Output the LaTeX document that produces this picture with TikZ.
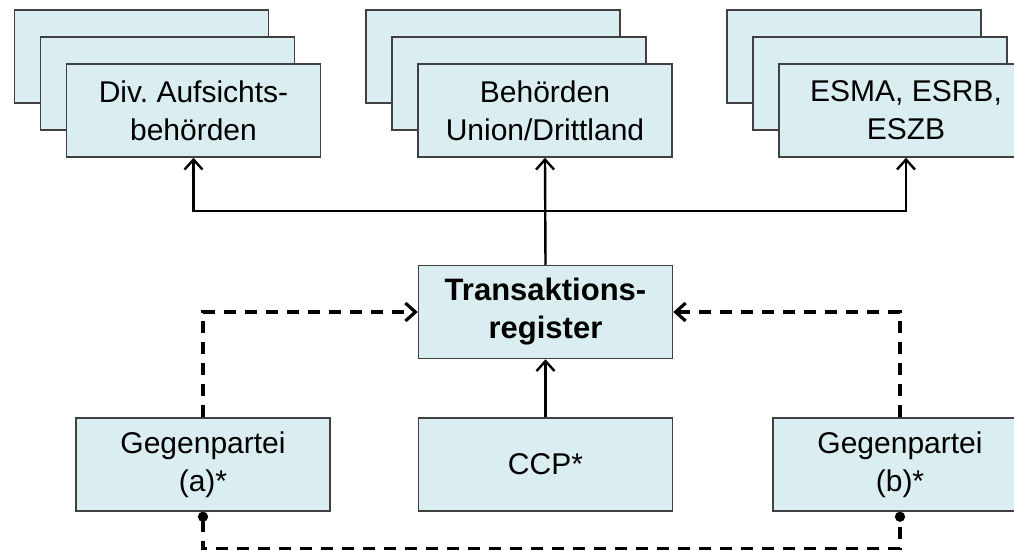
\documentclass[tikz,border=0pt]{standalone}
\usepackage{fontspec}
\setmainfont{Liberation Sans}
\usetikzlibrary{arrows.meta,shadows}
\definecolor{BoxBlue}{HTML}{DAEDF0}
\frenchspacing

\begin{document}
\begin{tikzpicture}[x=0.5pt, y=-0.5pt,
        every node/.style={rectangle, draw=black!75, fill=BoxBlue, line width=0.75pt, inner sep=2pt,
            minimum width=127pt, minimum height=46.5pt, align=center, font=\fontsize{15}{19}\selectfont},
        stack/.style={double copy shadow={shadow xshift=-13pt, shadow yshift=13.5pt}},
        link/.style={line width=1.2pt, -{Straight Barb[length=5pt, width=9pt]}},
        report/.style={link, line width=1.6pt, dash pattern=on 6pt off 4.5pt}]
    \useasboundingbox (0,0) rectangle (1014,552);
    % recipients
    \node[stack] (aufs) at (193.5,110.5) {Div. Aufsichts-\\behörden};
    \node[stack] (behoerden) at (545,110.5) {Behörden\\Union/Drittland};
    \node[stack] (esma) at (906,110.5) {ESMA, ESRB,\\ESZB};
    % register
    \node[font=\fontsize{15.5}{19}\selectfont\bfseries] (transreg) at (545.5,312) {Transaktions-\\register};
    % reporting parties
    \node (gegena) at (203,464.5) {Gegenpartei\\(a)*};
    \node (ccp) at (545.5,464.5) {CCP*};
    \node (gegenb) at (900,464.5) {Gegenpartei\\(b)*};
    \coordinate (split) at (545.5,211);
    \draw[link] (transreg.north) -- (behoerden.south);
    \draw[link] (split) -| (aufs.south);
    \draw[link] (split) -| (esma.south);
    \draw[link] (ccp.north) -- (transreg.south);
    \draw[report] (gegena.north) |- (transreg.west);
    \draw[report] (gegenb.north) |- (transreg.east);
    \draw[report, {Circle[length=5pt]}-{Circle[length=5pt]}] (gegena.south) -- ++(0,37) -| (gegenb.south);
\end{tikzpicture}
\end{document}
